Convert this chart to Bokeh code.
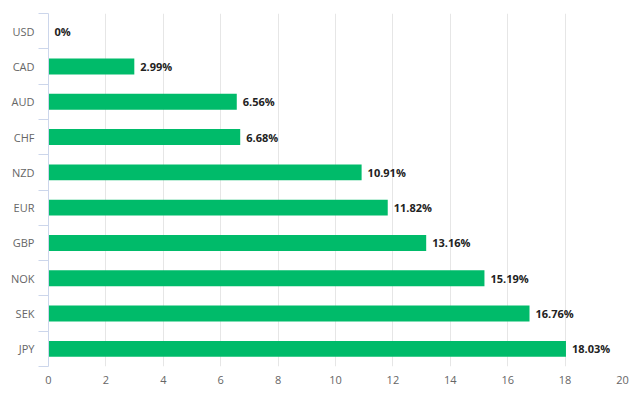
from bokeh.plotting import figure
from bokeh.models import ColumnDataSource, FixedTicker, Range1d
from bokeh.core.properties import value
from bokeh.embed import file_html
from bokeh.resources import INLINE

currencies = ["USD", "CAD", "AUD", "CHF", "NZD", "EUR", "GBP", "NOK", "SEK", "JPY"]
changes = [0, 2.99, 6.56, 6.68, 10.91, 11.82, 13.16, 15.19, 16.76, 18.03]
x_ticks = [0, 2, 4, 6, 8, 10, 12, 14, 16, 18, 20]

FONT = "Open Sans"
idx = list(range(len(currencies)))
labels = [("%g" % v) + "%" if v == 0 else "%.2f%%" % v for v in changes]
src = ColumnDataSource(dict(y=idx, v=changes, lab=labels))

p = figure(width=632, height=396, output_backend="svg", toolbar_location=None,
           x_range=Range1d(0, 20), y_range=Range1d(len(currencies) - 0.5, -0.5),
           min_border_left=48, min_border_right=10, min_border_top=13, min_border_bottom=30)
p.outline_line_color = None
p.background_fill_color = "white"
p.border_fill_color = "white"

p.hbar(y="y", right="v", left=0, height=0.45, source=src, color="#00bb6a", line_color=None)
p.text(x="v", y="y", text="lab", source=src, x_offset=6, text_baseline="middle",
       text_align="left", text_font=value(FONT), text_font_size="11px",
       text_font_style="bold", text_color="#222222")

# x axis
p.xaxis.ticker = FixedTicker(ticks=x_ticks)
p.xaxis.axis_line_color = None
p.xaxis.major_tick_line_color = None
p.xaxis.minor_tick_line_color = None
p.xaxis.major_label_text_font = FONT
p.xaxis.major_label_text_font_size = "11px"
p.xaxis.major_label_text_color = "#666666"
p.xaxis.major_label_standoff = 3
p.xgrid.ticker = FixedTicker(ticks=x_ticks)
p.xgrid.grid_line_color = "#e6e6e6"
p.ygrid.grid_line_color = None

# y axis
bounds = [i - 0.5 for i in range(len(currencies) + 1)]
p.yaxis.ticker = FixedTicker(ticks=idx, minor_ticks=bounds)
p.yaxis.major_label_overrides = {i: c for i, c in zip(idx, currencies)}
p.yaxis.axis_line_color = "#ccd6eb"
p.yaxis.major_tick_line_color = None
p.yaxis.minor_tick_line_color = "#ccd6eb"
p.yaxis.minor_tick_out = 10
p.yaxis.minor_tick_in = 0
p.yaxis.major_tick_out = 0
p.yaxis.major_tick_in = 0
p.yaxis.major_label_standoff = 4
p.yaxis.major_label_text_font = FONT
p.yaxis.major_label_text_font_size = "11px"
p.yaxis.major_label_text_color = "#666666"

open("out.html", "w").write(file_html(p, INLINE))
